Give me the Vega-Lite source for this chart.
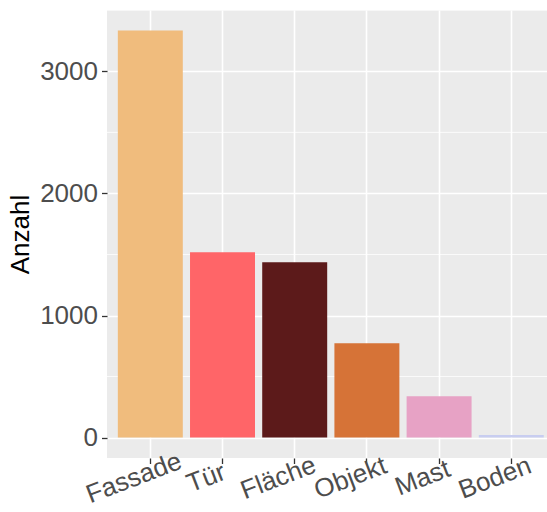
{
  "$schema": "https://vega.github.io/schema/vega-lite/v6.json",
  "autosize": "none",
  "padding": {"left": 107, "top": 10, "right": 0, "bottom": 54},
  "width": 440,
  "height": 448,
  "background": "white",
  "config": {
    "font": "Liberation Sans",
    "view": {"fill": "#EBEBEB", "stroke": null}
  },
  "data": {
    "values": [
      {"Kategorie": "Fassade", "Anzahl": 3335},
      {"Kategorie": "Tür", "Anzahl": 1518},
      {"Kategorie": "Fläche", "Anzahl": 1436},
      {"Kategorie": "Objekt", "Anzahl": 772},
      {"Kategorie": "Mast", "Anzahl": 338},
      {"Kategorie": "Boden", "Anzahl": 22}
    ]
  },
  "layer": [
    {
      "data": {"values": [{"minor": 500}, {"minor": 1500}, {"minor": 2500}, {"minor": 3500}]},
      "mark": {"type": "rule", "color": "white", "strokeWidth": 0.8},
      "encoding": {
        "y": {"field": "minor", "type": "quantitative"}
      }
    },
    {
      "mark": {"type": "bar"},
      "encoding": {
        "x": {
          "field": "Kategorie",
          "type": "nominal",
          "sort": ["Fassade", "Tür", "Fläche", "Objekt", "Mast", "Boden"],
          "scale": {"range": [0, 447.6], "paddingInner": 0.1, "paddingOuter": 0.15},
          "axis": {
            "title": null,
            "domain": false,
            "grid": true,
            "gridColor": "white",
            "gridWidth": 1.6,
            "ticks": true,
            "tickColor": "#333333",
            "tickSize": 5.5,
            "tickWidth": 1.3,
            "labelAngle": -21,
            "labelAlign": "center",
            "labelBaseline": "top",
            "labelFontSize": 26,
            "labelColor": "#4D4D4D",
            "labelPadding": 2,
            "labelOffset": -21,
            "labelOverlap": false,
            "labelBound": false
          }
        },
        "y": {
          "field": "Anzahl",
          "type": "quantitative",
          "scale": {"domain": [-167, 3502], "nice": false, "zero": false},
          "axis": {
            "values": [0, 1000, 2000, 3000],
            "format": "d",
            "title": "Anzahl",
            "titleFontSize": 26,
            "titleFontWeight": "normal",
            "titleColor": "black",
            "titlePadding": 6,
            "domain": false,
            "grid": true,
            "gridColor": "white",
            "gridWidth": 1.6,
            "ticks": true,
            "tickColor": "#333333",
            "tickSize": 5.5,
            "tickWidth": 1.3,
            "labelFontSize": 26,
            "labelColor": "#4D4D4D",
            "labelPadding": 4
          }
        },
        "color": {
          "field": "Kategorie",
          "type": "nominal",
          "scale": {
            "domain": ["Fassade", "Tür", "Fläche", "Objekt", "Mast", "Boden"],
            "range": ["#F0BC7D", "#FF6568", "#5C1A1A", "#D67337", "#E7A2C5", "#C8CDF0"]
          },
          "legend": null
        }
      }
    }
  ]
}
